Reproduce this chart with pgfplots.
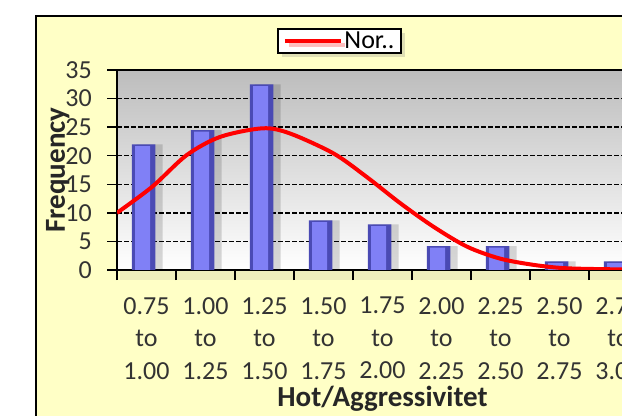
\documentclass[border=0pt]{standalone}
\usepackage{fontspec}
\setmainfont{Carlito}
\usepackage{pgfplots}
\pgfplotsset{compat=1.18}
\usetikzlibrary{shadows}
\definecolor{chartbg}{HTML}{FFFFC6}
\definecolor{barmid}{HTML}{8080F6}
\definecolor{baredge}{HTML}{4A4AB4}
\newcommand{\tickfont}{\fontsize{26bp}{32.5bp}\selectfont}
\newcommand{\labelfont}{\fontsize{29bp}{34bp}\selectfont\bfseries}
\begin{document}
\begin{tikzpicture}
\useasboundingbox (0,0) rectangle (622bp,416bp);
\clip (0,0) rectangle (622bp,416bp);
\fill[white] (0,0) rectangle (622bp,416bp);
\filldraw[fill=chartbg, draw=black, line width=2.5bp] (36bp,400bp) rectangle (720bp,-40bp);
\begin{axis}[
  at={(117bp,146bp)}, anchor=south west,
  scale only axis, width=531bp, height=200bp,
  xmin=-0.5, xmax=8.5, ymin=0, ymax=35,
  ytick={0,5,...,35},
  minor ytick={0,5,...,35},
  xtick={0,1,...,8},
  xticklabels={0.75\\to\\1.00, 1.00\\to\\1.25, 1.25\\to\\1.50,
    1.50\\to\\1.75, 1.75\\to\\2.00, 2.00\\to\\2.25, 2.25\\to\\2.50,
    2.50\\to\\2.75, 2.75\\to\\3.00},
  minor xtick={-0.5,0.5,...,8.5},
  tick pos=left, tick align=outside,
  major tick length=0pt, minor tick length=10bp,
  tick style={black, line width=1.5bp},
  minor tick style={black, line width=1.5bp},
  axis line style={black, line width=1.5bp},
  ymajorgrids,
  grid style={black, line width=1.3bp, dash pattern=on 4.5bp off 2.5bp},
  axis background/.style={top color=black!26, bottom color=white,
    drop shadow={shadow xshift=3bp, shadow yshift=-10bp, opacity=0.12}},
  /pgf/number format/assume math mode=true,
  tick label style={font=\tickfont, text=black!80},
  yticklabel style={inner sep=0pt, xshift=-25bp},
  xticklabel style={align=center, inner sep=1bp, yshift=-26bp},
  xlabel={Hot/Aggressivitet},
  ylabel={Frequency},
  every axis x label/.style={at={(axis description cs:0.5,-0.685)}, anchor=base, font=\labelfont, text=black!85},
  every axis y label/.style={at={(axis description cs:-0.098,0.5)}, rotate=90, anchor=base, font=\labelfont, text=black!85},
  legend style={at={(axis description cs:0.419,1.145)}, anchor=center,
    draw=black, line width=1.5bp, fill=white, font=\tickfont,
    inner xsep=5bp, inner ysep=1.5bp,
    drop shadow={shadow xshift=4bp, shadow yshift=-4bp, opacity=0.25},
    nodes={inner sep=1.5bp}},
  legend image code/.code={\draw[#1] (0bp,0bp) -- (56bp,0bp);},
]
% shadow of the bars
\addplot[ybar, bar width=26bp, bar shift=3bp, fill=black, draw=none, opacity=0.15, forget plot]
  coordinates {(0,22) (1,24.5) (2,32.5) (3,8.7) (4,8) (5,4.2) (6,4.2) (7,1.5) (8,1.5)};
% bar body: dark edges, light middle
\addplot[ybar, bar width=23.5bp, bar shift=-3bp, draw=none, fill=baredge, forget plot]
  coordinates {(0,22) (1,24.5) (2,32.5) (3,8.7) (4,8) (5,4.2) (6,4.2) (7,1.5) (8,1.5)};
\addplot[ybar, bar width=15bp, bar shift=-4bp, draw=none, fill=barmid, forget plot]
  coordinates {(0,21.7) (1,24.2) (2,32.2) (3,8.4) (4,7.7) (5,3.9) (6,3.9) (7,1.2) (8,1.2)};
% fitted normal curve
\addplot[red, line width=4bp, smooth]
  coordinates {(-0.5,10.0) (0.1,14.6) (0.68,20.1) (1.25,23.3) (1.97,24.8)
    (2.43,23.9) (3.17,20.4) (3.73,16.3) (4.30,11.7) (4.86,7.6) (5.43,4.1)
    (5.99,2.0) (6.56,0.9) (7.12,0.3) (8.06,0.1) (8.5,0.05)};
\addlegendentry{Nor..}
\end{axis}
\end{tikzpicture}
\end{document}
